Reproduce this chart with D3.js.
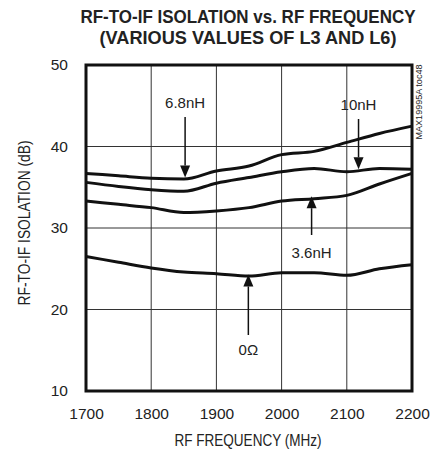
<!DOCTYPE html>
<html>
<head>
<meta charset="utf-8">
<script src="https://cdn.jsdelivr.net/npm/d3@7"></script>
<style>
  body { margin: 0; background: #fff; }
  text { font-family: "Liberation Sans", Arial, sans-serif; fill: #222; }
</style>
</head>
<body>
<div id="chart"></div>
<script>
// RF-to-IF isolation (dB), per RF frequency (MHz)
var freqs = [1700, 1750, 1800, 1850, 1900, 1950, 2000, 2050, 2100, 2150, 2200];
var iso68nH = [36.7, 36.4, 36.1, 36.0, 37.0, 37.6, 39.0, 39.4, 40.5, 41.6, 42.5];
var iso10nH = [35.6, 35.1, 34.7, 34.5, 35.5, 36.2, 36.9, 37.3, 36.9, 37.3, 37.2];
var iso36nH = [33.3, 32.9, 32.5, 31.9, 32.1, 32.5, 33.3, 33.6, 34.0, 35.4, 36.7];
var iso0 = [26.5, 25.8, 25.1, 24.6, 24.4, 24.1, 24.5, 24.5, 24.2, 25.0, 25.5];
var xTicks = [1700, 1800, 1900, 2000, 2100, 2200];
var yTicks = [10, 20, 30, 40, 50];

var width = 441, height = 454;
var plotL = 86, plotR = 412, plotT = 65, plotB = 391;

var svg = d3.select('#chart').append('svg')
  .attr('width', width)
  .attr('height', height);

var x = d3.scaleLinear().domain([1700, 2200]).range([plotL, plotR]);
var y = d3.scaleLinear().domain([10, 50]).range([plotB, plotT]);

// title (narrow font emulated by stretching a smaller one vertically)
svg.append('text').attr('transform', 'translate(248,23) scale(1,1.16)')
  .attr('text-anchor', 'middle').attr('font-size', 16).attr('font-weight', 'bold')
  .attr('textLength', 335).attr('lengthAdjust', 'spacingAndGlyphs')
  .text('RF-TO-IF ISOLATION vs. RF FREQUENCY');
svg.append('text').attr('transform', 'translate(248,44) scale(1,1.16)')
  .attr('text-anchor', 'middle').attr('font-size', 16).attr('font-weight', 'bold')
  .attr('textLength', 297).attr('lengthAdjust', 'spacingAndGlyphs')
  .text('(VARIOUS VALUES OF L3 AND L6)');

// grid
svg.append('g').selectAll('line').data(xTicks.slice(1, -1))
  .enter().append('line')
  .attr('x1', function(d) { return x(d); }).attr('x2', function(d) { return x(d); })
  .attr('y1', plotT).attr('y2', plotB)
  .attr('stroke', '#333').attr('stroke-width', 1);
svg.append('g').selectAll('line').data(yTicks.slice(1, -1))
  .enter().append('line')
  .attr('y1', function(d) { return y(d); }).attr('y2', function(d) { return y(d); })
  .attr('x1', plotL).attr('x2', plotR)
  .attr('stroke', '#333').attr('stroke-width', 1);

// axes (labels only, frame drawn separately)
var xAxis = svg.append('g').attr('transform', 'translate(0,' + plotB + ')')
  .call(d3.axisBottom(x).tickValues(xTicks).tickSize(0).tickPadding(17).tickFormat(d3.format('d')));
var yAxis = svg.append('g').attr('transform', 'translate(' + plotL + ',0)')
  .call(d3.axisLeft(y).tickValues(yTicks).tickSize(0).tickPadding(18));
[xAxis, yAxis].forEach(function(a) {
  a.select('.domain').remove();
  a.selectAll('text').attr('font-size', 15.5).attr('fill', '#222')
    .style('font-family', '"Liberation Sans", Arial, sans-serif');
});

// frame
svg.append('rect').attr('x', plotL).attr('y', plotT)
  .attr('width', plotR - plotL).attr('height', plotB - plotT)
  .attr('fill', 'none').attr('stroke', '#111').attr('stroke-width', 3);

// curves
var line = d3.line()
  .x(function(d, i) { return x(freqs[i]); })
  .y(function(d) { return y(d); })
  .curve(d3.curveMonotoneX);
svg.append('g').selectAll('path')
  .data([iso68nH, iso10nH, iso36nH, iso0])
  .enter().append('path')
  .attr('d', line)
  .attr('fill', 'none').attr('stroke', '#111').attr('stroke-width', 3);

// annotations
var notes = [
  { label: '6.8nH', f: 1852, tipV: 36.2, tailY: 117, textY: 108, dir: 'down' },
  { label: '10nH', f: 2118, tipV: 37.2, tailY: 119, textY: 110, dir: 'down' },
  { label: '3.6nH', f: 2046, tipV: 33.9, tailY: 235, textY: 258, dir: 'up' },
  { label: '0\u03A9', f: 1949, tipV: 24.3, tailY: 335, textY: 355, dir: 'up' }
];
var ann = svg.append('g');
notes.forEach(function(n) {
  var px = x(n.f), tip = y(n.tipV);
  var base = n.dir === 'down' ? tip - 12 : tip + 12;
  ann.append('line').attr('x1', px).attr('x2', px)
    .attr('y1', n.tailY).attr('y2', base)
    .attr('stroke', '#111').attr('stroke-width', 1.5);
  ann.append('path')
    .attr('d', 'M' + (px - 5) + ',' + base + 'L' + (px + 5) + ',' + base + 'L' + px + ',' + tip + 'Z')
    .attr('fill', '#111');
  ann.append('text').attr('x', px).attr('y', n.textY)
    .attr('text-anchor', 'middle').attr('font-size', 15)
    .text(n.label);
});

// axis titles
svg.append('text').attr('x', 248).attr('y', 446)
  .attr('text-anchor', 'middle').attr('font-size', 16)
  .attr('textLength', 147).attr('lengthAdjust', 'spacingAndGlyphs')
  .text('RF FREQUENCY (MHz)');
svg.append('text')
  .attr('transform', 'translate(30,' + 223 + ') rotate(-90)')
  .attr('text-anchor', 'middle').attr('font-size', 16)
  .attr('textLength', 165).attr('lengthAdjust', 'spacingAndGlyphs')
  .text('RF-TO-IF ISOLATION (dB)');

// part number tag
svg.append('text')
  .attr('transform', 'translate(422,102) rotate(-90)')
  .attr('text-anchor', 'middle').attr('font-size', 9).attr('fill', '#333')
  .attr('textLength', 75).attr('lengthAdjust', 'spacingAndGlyphs')
  .text('MAX19995A toc48');
</script>
</body>
</html>
